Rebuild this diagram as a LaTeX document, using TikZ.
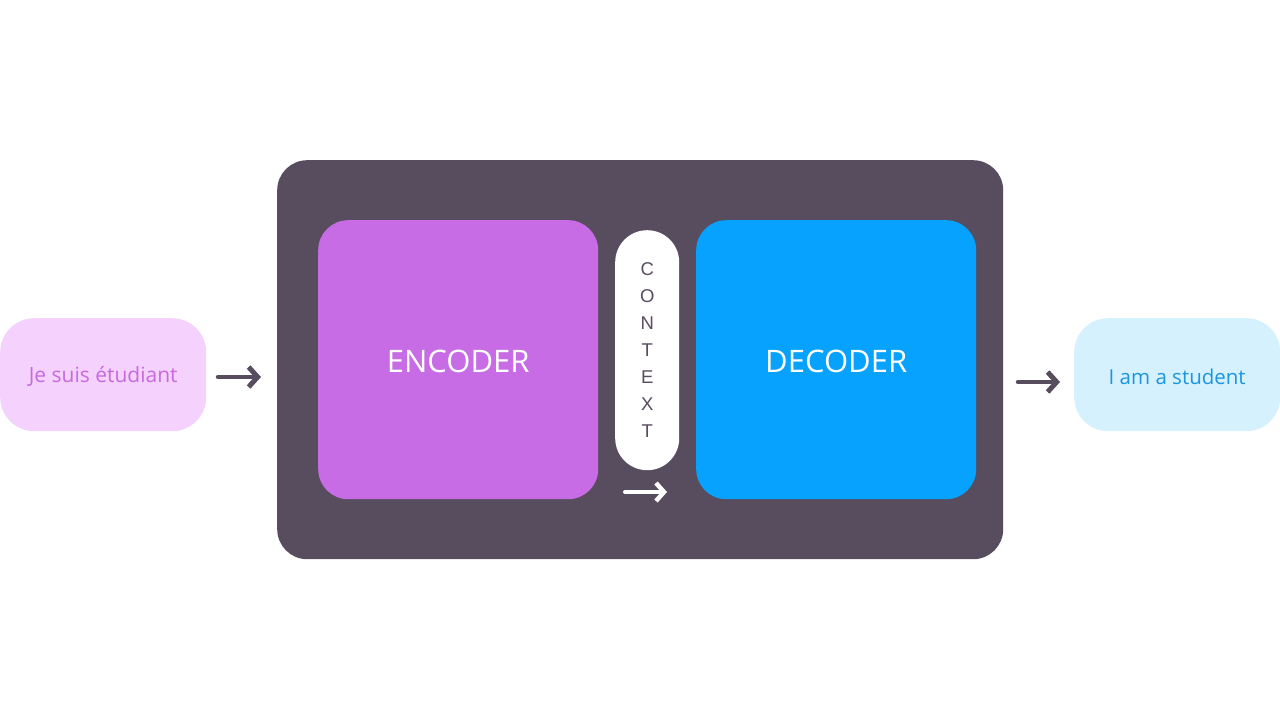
\documentclass[tikz,border=0pt]{standalone}
\usepackage{fontspec}
\setmainfont{Open Sans}
\setsansfont{Liberation Sans}
\usetikzlibrary{arrows.meta}
\definecolor{frame}{HTML}{584C5F}
\definecolor{enc}{HTML}{C86CE5}
\definecolor{dec}{HTML}{06A2FD}
\definecolor{inbg}{HTML}{F5D1FE}
\definecolor{intx}{HTML}{C76ADF}
\definecolor{outbg}{HTML}{D5F1FE}
\definecolor{outtx}{HTML}{1C95DE}
\tikzset{
  box/.style={rounded corners=#1, inner sep=0pt, anchor=north west},
  flow/.style={line width=4.5pt, line cap=round, line join=round,
    -{Straight Barb[length=9pt, width=20pt, line width=5pt]}},
}
\begin{document}
\begin{tikzpicture}[x=1pt,y=-1pt]
\useasboundingbox[fill=white] (0,0) rectangle (1280,720);
% input
\node[box=34pt, fill=inbg, minimum width=206pt, minimum height=113pt] (inp) at (0,318) {};
\node[text=intx, font=\fontsize{21}{24}\selectfont] (inptx) at ([yshift=-2pt]inp.center) {Je suis étudiant};
% frame
\node[box=30pt, fill=frame, minimum width=726pt, minimum height=399pt] (frm) at (277,160) {};
% encoder
\node[box=30pt, fill=enc, minimum width=280pt, minimum height=279pt] (encb) at (318,220) {};
\node[text=white, font=\fontsize{31}{34}\selectfont] (enctx) at ([yshift=-1.5pt]encb.center) {ENCODER};
% decoder
\node[box=30pt, fill=dec, minimum width=280pt, minimum height=279pt] (decb) at (696,220) {};
\node[text=white, font=\fontsize{31}{34}\selectfont] (dectx) at ([yshift=-1.5pt]decb.center) {DECODER};
% context pill
\node[box=32pt, fill=white, minimum width=64pt, minimum height=240pt] (ctx) at (615,230) {};
\node[text=frame, font=\sffamily\fontsize{18.5}{27}\selectfont, align=center] (ctxtx) at ([yshift=0pt]ctx.center) {C\\O\\N\\T\\E\\X\\T};
% arrows
\coordinate (a1s) at (218,377);
\coordinate (a1e) at (261,377);
\draw[flow, draw=frame] (a1s) -- (a1e);
\coordinate (a2s) at (625,492);
\coordinate (a2e) at (667,492);
\draw[flow, draw=white, line width=4pt, -{Straight Barb[length=8pt, width=18pt, line width=4.5pt]}] (a2s) -- (a2e);
\coordinate (a3s) at (1018,382);
\coordinate (a3e) at (1060,382);
\draw[flow, draw=frame] (a3s) -- (a3e);
% output
\node[box=34pt, fill=outbg, minimum width=206pt, minimum height=113pt] (outp) at (1074,318) {};
\node[text=outtx, font=\fontsize{20.5}{24}\selectfont] (outtx) at ([yshift=-2pt]outp.center) {I am a student};
\end{tikzpicture}
\end{document}
